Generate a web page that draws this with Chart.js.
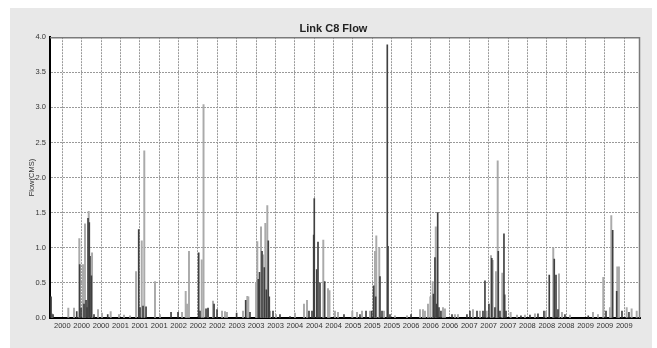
<!DOCTYPE html>
<html><head><meta charset="utf-8">
<script src="https://cdn.jsdelivr.net/npm/chart.js@4"></script>
<style>html,body{margin:0;padding:0;background:#fff;}#wrap{width:657px;height:348px;}</style>
</head><body><div id="wrap"><canvas id="c" width="657" height="348"></canvas></div>
<script>
// Light-gray flow spikes (decimal year, CMS)
const lightX = [1999.823,2000.103,2000.201,2000.292,2000.356,2000.390,2000.454,2000.511,2000.614,2000.683,2000.832,2000.975,2001.061,2001.164,2001.268,2001.366,2001.410,2001.594,2001.680,2002.059,2002.122,2002.145,2002.179,2002.398,2002.429,2002.506,2002.592,2002.747,2002.798,2002.832,2003.108,2003.182,2003.200,2003.332,2003.354,2003.418,2003.457,2003.492,2003.526,2003.572,2003.676,2004.002,2004.157,2004.209,2004.489,2004.570,2004.596,2004.690,2004.742,2004.988,2005.069,2005.155,2005.292,2005.378,2005.401,2005.452,2005.533,2005.722,2005.929,2006.153,2006.204,2006.238,2006.290,2006.330,2006.371,2006.424,2006.548,2006.582,2006.754,2006.806,2007.064,2007.184,2007.300,2007.374,2007.403,2007.460,2007.489,2007.568,2007.712,2007.821,2007.958,2008.130,2008.320,2008.445,2008.543,2008.595,2008.732,2009.128,2009.214,2009.305,2009.420,2009.443,2009.546,2009.575,2009.708,2009.793,2009.880];
const lightY = [0.06,0.14,0.14,1.13,0.76,1.34,1.52,0.93,0.12,0.07,0.09,0.05,0.04,0.03,0.66,1.10,2.38,0.52,0.05,0.08,0.38,0.20,0.95,0.83,3.04,0.12,0.24,0.10,0.09,0.08,0.10,0.31,0.30,0.50,1.09,1.30,0.90,1.35,1.60,0.10,0.05,0.07,0.20,0.25,1.11,0.42,0.39,0.10,0.08,0.10,0.08,0.10,0.10,0.95,1.17,1.00,0.10,0.03,0.03,0.12,0.12,0.10,0.20,0.30,0.52,1.30,0.15,0.13,0.05,0.05,0.12,0.10,0.10,0.89,0.82,0.66,2.24,0.64,0.08,0.04,0.04,0.06,0.10,1.00,0.63,0.08,0.04,0.08,0.05,0.58,0.15,1.46,0.73,0.73,0.15,0.13,0.10];
// Dark-gray flow spikes (decimal year, CMS)
const darkX = [1999.806,1999.840,2000.248,2000.299,2000.322,2000.373,2000.408,2000.425,2000.442,2000.464,2000.476,2000.499,2000.545,2000.781,2001.314,2001.336,2001.388,2001.440,2001.870,2001.990,2002.346,2002.368,2002.472,2002.506,2002.610,2002.661,2002.998,2003.154,2003.228,2003.371,2003.392,2003.435,2003.474,2003.509,2003.543,2003.560,2003.624,2003.744,2003.916,2004.243,2004.295,2004.324,2004.334,2004.376,2004.398,2004.432,2004.513,2004.845,2005.120,2005.224,2005.322,2005.356,2005.390,2005.464,2005.499,2005.590,2005.602,2005.636,2005.998,2006.385,2006.410,2006.437,2006.457,2006.479,2006.513,2006.703,2006.960,2007.012,2007.133,2007.236,2007.270,2007.339,2007.388,2007.442,2007.499,2007.528,2007.597,2007.609,2007.632,2007.889,2008.044,2008.182,2008.285,2008.376,2008.462,2008.492,2008.526,2008.646,2009.047,2009.352,2009.467,2009.536,2009.627,2009.747];
const darkY = [0.30,0.05,0.09,0.76,0.14,0.20,0.25,0.15,1.42,1.36,0.88,0.60,0.05,0.05,1.26,0.15,0.17,0.16,0.08,0.08,0.93,0.10,0.13,0.14,0.20,0.12,0.07,0.25,0.08,0.55,0.65,0.95,0.72,0.40,1.10,0.30,0.10,0.05,0.02,0.10,0.10,1.18,1.70,0.69,1.08,0.50,0.52,0.05,0.05,0.10,0.10,0.46,0.30,0.59,0.10,3.89,1.02,0.05,0.05,0.34,0.86,0.20,1.50,0.15,0.10,0.05,0.05,0.10,0.10,0.10,0.53,0.20,0.85,0.15,0.95,0.10,1.20,0.33,0.10,0.03,0.04,0.06,0.10,0.61,0.84,0.61,0.12,0.05,0.03,0.10,1.25,0.38,0.10,0.08];
const xTickLabels = ['2000','2000','2000','2001','2001','2001','2002','2002','2002','2003','2003','2003','2004','2004','2004','2005','2005','2005','2006','2006','2006','2007','2007','2007','2008','2008','2008','2009','2009','2009'];
const yTicks = [0,0.5,1.0,1.5,2.0,2.5,3.0,3.5,4.0];

const FONT = "'Liberation Sans', Arial, sans-serif";
const bgPlugin = {
  id:'bg',
  beforeDraw(chart){
    const ctx = chart.ctx, a = chart.chartArea;
    ctx.save();
    ctx.fillStyle = '#ffffff'; ctx.fillRect(0,0,chart.width,chart.height);
    ctx.fillStyle = '#e8e8e8'; ctx.fillRect(10,8,642,340);
    ctx.fillStyle = '#ffffff'; ctx.fillRect(a.left,a.top,a.right-a.left,a.bottom-a.top);
    ctx.restore();
  },
  afterDraw(chart){
    const ctx = chart.ctx, a = chart.chartArea;
    ctx.save();
    ctx.strokeStyle = '#7a7a7a'; ctx.lineWidth = 1.5;
    ctx.beginPath();
    ctx.moveTo(a.left, a.top+0.5); ctx.lineTo(a.right-0.5, a.top+0.5); ctx.lineTo(a.right-0.5, a.bottom);
    ctx.stroke();
    ctx.restore();
  }
};

new Chart(document.getElementById('c'), {
  type:'bar',
  data:{
    datasets:[
      {label:'light', data: lightX.map((x,i)=>({x:x,y:lightY[i]})), backgroundColor:'#aaaaaa', barThickness:1.3, grouped:false, order:2},
      {label:'dark', data: darkX.map((x,i)=>({x:x,y:darkY[i]})), backgroundColor:'#404040', barThickness:1, grouped:false, order:1}
    ]
  },
  options:{
    responsive:false, animation:false,
    layout:{padding:{left:27,right:17,top:0,bottom:0}},
    plugins:{
      legend:{display:false}, tooltip:{enabled:false},
      title:{display:true,text:'Link C8 Flow',color:'#222',font:{family:FONT,size:11,weight:'bold'},padding:{top:22,bottom:2},lineHeight:1.2}
    },
    scales:{
      x:{type:'linear',min:1999.788,max:2009.937,offset:false,
        afterBuildTicks:s=>{s.ticks = xTickLabels.map((l,i)=>({value:2000+i/3}));},
        ticks:{autoSkip:false,maxRotation:0,minRotation:0,padding:3,color:'#333',font:{family:FONT,size:7.5},callback:(v,i)=>xTickLabels[i]},
        grid:{color:'#999999',drawTicks:false,offset:false},
        border:{display:true,color:'#000',width:2,dash:[2,1]},
        afterFit:s=>{s.height=30;}
      },
      y:{min:0,max:4,
        afterBuildTicks:s=>{s.ticks = yTicks.map(v=>({value:v}));},
        ticks:{padding:4,color:'#333',font:{family:FONT,size:7.5},callback:v=>Number(v).toFixed(1)},
        grid:{color:'#999999',drawTicks:false},
        border:{display:true,color:'#000',width:2,dash:[2,1]},
        title:{display:true,text:'Flow(CMS)',color:'#333',padding:0,font:{family:FONT,size:7.5}},
        afterFit:s=>{s.width=23;}
      }
    }
  },
  plugins:[bgPlugin]
});
</script></body></html>
